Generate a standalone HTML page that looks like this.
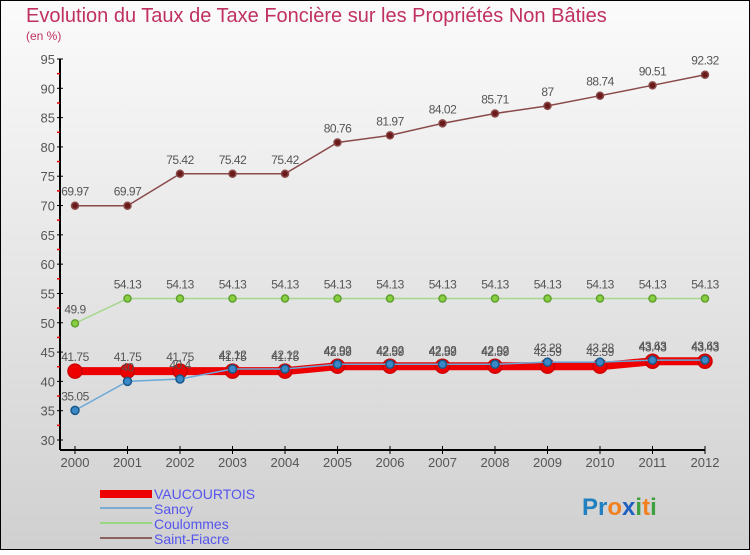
<!DOCTYPE html>
<html><head><meta charset="utf-8"><style>
body{margin:0}
#c{position:relative;width:750px;height:550px;font-family:"Liberation Sans",sans-serif}
</style></head><body>
<div id="c">
<svg id="s" width="750" height="550" xmlns="http://www.w3.org/2000/svg">
<defs><linearGradient id="bg" x1="0" y1="0" x2="0" y2="1"><stop offset="0" stop-color="#fbfbfb"/><stop offset="1" stop-color="#d0d0d0"/></linearGradient></defs>
<rect x="0.5" y="0.5" width="749" height="549" fill="url(#bg)" stroke="#000"/>
<text x="26" y="22" font-size="20" fill="#c03060">Evolution du Taux de Taxe Foncière sur les Propriétés Non Bâties</text>
<text x="26" y="40" font-size="12" fill="#c03060">(en %)</text>
<g id="axes"></g><g id="series"></g>
<g>
<rect x="100" y="490" width="52" height="8" fill="#e00"/>
<text x="154" y="499" font-size="14" fill="#5555ee">VAUCOURTOIS</text>
<rect x="100" y="507" width="52" height="2" fill="#7aaed0"/>
<text x="154" y="514" font-size="14" fill="#5555ee">Sancy</text>
<rect x="100" y="522" width="52" height="2" fill="#98d880"/>
<text x="154" y="529" font-size="14" fill="#5555ee">Coulommes</text>
<rect x="100" y="537" width="52" height="2" fill="#8a6060"/>
<text x="154" y="544" font-size="14" fill="#5555ee">Saint-Fiacre</text>
</g>
<text x="582" y="515" font-size="24" font-weight="bold"><tspan fill="#2080c0">Pr</tspan><tspan fill="#f08020">o</tspan><tspan fill="#2060c0">x</tspan><tspan fill="#40a040">i</tspan><tspan fill="#f08020">t</tspan><tspan fill="#40a040">i</tspan></text>
</svg>
</div>
<script>
const years=[2000,2001,2002,2003,2004,2005,2006,2007,2008,2009,2010,2011,2012];
const yTicks=[30,35,40,45,50,55,60,65,70,75,80,85,90,95];
const vaucourtois=[41.75,41.75,41.75,41.75,41.75,42.59,42.59,42.59,42.59,42.59,42.59,43.43,43.43];
const sancy=[35.05,40,40.4,42.12,42.12,42.92,42.92,42.92,42.92,43.28,43.28,43.63,43.63];
const coulommes=[49.9,54.13,54.13,54.13,54.13,54.13,54.13,54.13,54.13,54.13,54.13,54.13,54.13];
const saintFiacre=[69.97,69.97,75.42,75.42,75.42,80.76,81.97,84.02,85.71,87,88.74,90.51,92.32];
const NS="http://www.w3.org/2000/svg";
const X=i=>75+i*52.5;
const Y=v=>440-(v-30)*(381/65);
function mk(t,a,p){const e=document.createElementNS(NS,t);for(const k in a)e.setAttribute(k,a[k]);p.appendChild(e);return e;}
const ax=document.getElementById('axes');
const yl=mk('line',{x1:60,y1:Y(95),x2:60,y2:450,stroke:'#000','stroke-width':2},ax);


const xl=mk('line',{x1:60,y1:450,x2:X(12),y2:450,stroke:'#000','stroke-width':2},ax);


yTicks.forEach((v,i)=>{
  mk('line',{x1:57,y1:Y(v),x2:63,y2:Y(v),stroke:'#000'},ax);
  if(i<yTicks.length-1)mk('line',{x1:57,y1:Y(v+2.5),x2:60,y2:Y(v+2.5),stroke:'#e00','stroke-width':1.5},ax);
  const t=mk('text',{x:55,y:Y(v)+5,'font-size':13,fill:'#555','text-anchor':'end'},ax);
  t.textContent=v;
  
  
});
years.forEach((y,i)=>{
  mk('line',{x1:X(i),y1:446,x2:X(i),y2:454,stroke:'#000'},ax);
  const t=mk('text',{x:X(i),y:467,'font-size':13,fill:'#555','text-anchor':'middle'},ax);
  t.textContent=y;
  
  
});
const sg=document.getElementById('series');
function draw(vals,name,col,w,r,fill,stroke){
  const g=mk('g',{},sg);
  
  
  const pl=mk('polyline',{points:vals.map((v,i)=>X(i)+','+Y(v)).join(' '),fill:'none',stroke:col,'stroke-width':w},g);
  
  
  vals.forEach((v,i)=>{
    const c=mk('circle',{cx:X(i),cy:Y(v),r:r,fill:fill,stroke:stroke,'stroke-width':1.5},g);
    
    
    const t=mk('text',{x:X(i),y:Y(v)-10,'font-size':12,fill:'#555','text-anchor':'middle','letter-spacing':'-0.5'},g);
    t.textContent=v;
    
    
  });
}
draw(saintFiacre,'saint-fiacre','#8a4a4a',1.5,3.5,'#6a1a1a','#8a4a4a');
draw(coulommes,'coulommes','#a8d890',1.5,3.5,'#88d040','#60a030');
draw(vaucourtois,'vaucourtois','#e00',8,7,'#e00','#c00');
draw(sancy,'sancy','#6aa8d8',1.5,4,'#3a88c8','#1a5888');
</script>
</body></html>
